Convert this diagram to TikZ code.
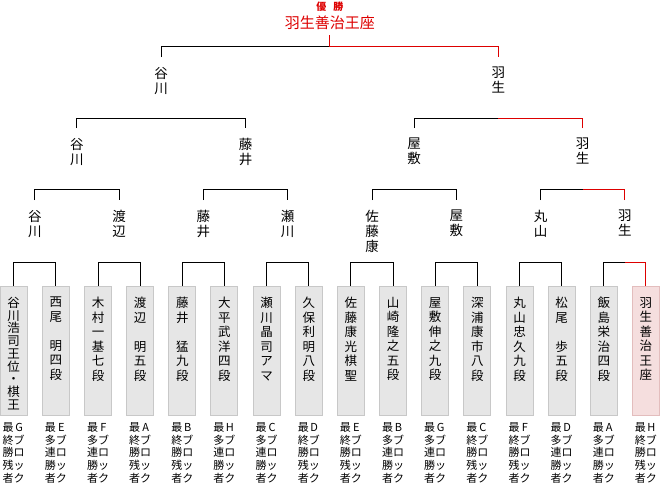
\documentclass[tikz,border=0pt]{standalone}
\usepackage{fontspec}
\setmainfont{Noto Sans CJK JP}
\usepackage{xcolor}
\definecolor{winred}{HTML}{DD0000}
\definecolor{boxfill}{HTML}{E6E6E6}
\definecolor{boxline}{HTML}{C8C8C8}
\definecolor{champfill}{HTML}{F5DEDE}
\definecolor{champline}{HTML}{E3BDBD}
\usepackage{tikz}
\usetikzlibrary{positioning, calc}

\newcommand{\zan}[1]{\begin{tabular}{@{}c@{}c@{}}最&#1\\終&ブ\\勝&ロ\\残&ッ\\者&ク\end{tabular}}
\newcommand{\ren}[1]{\begin{tabular}{@{}c@{}c@{}}最&#1\\多&ブ\\連&ロ\\勝&ッ\\者&ク\end{tabular}}

\tikzset{
  leaf/.style={draw=boxline, fill=boxfill, line width=1pt,
               minimum width=27pt, minimum height=129pt, inner sep=0pt},
  namelbl/.style={anchor=north, yshift=-9pt, align=center, inner sep=2pt,
                  font=\fontsize{12.5}{14.5}\selectfont},
  blocklbl/.style={anchor=north, yshift=-6pt, inner sep=0pt,
                   font=\fontsize{11}{11.6}\selectfont},
  wlbl/.style={anchor=north, align=center, inner xsep=0pt, inner ysep=10pt,
               font=\fontsize{13.5}{15}\selectfont},
  lose/.style={draw=black, line width=1pt},
  win/.style={draw=winred, line width=1pt}
}

\begin{document}
\begin{tikzpicture}[x=1pt, y=-1pt]
  \useasboundingbox (0,0) rectangle (660,483);

  \node[font=\bfseries\fontsize{10}{10}\selectfont, text=winred] (yusho)
        at (329.8,7) {優\hspace{0.7em}勝};
  \node[font=\fontsize{15}{15}\selectfont, text=winred, inner xsep=0pt,
        inner ysep=5pt] (champ) at (329.8,23) {羽生善治王座};
  \coordinate (top) at (329.8,46);

  \node[leaf, anchor=north,
        label={[namelbl, font=\fontsize{12.5}{12.75}\selectfont]north:{谷\\川\\浩\\司\\王\\位\\・\\棋\\王}},
        label={[blocklbl]south:\zan{G}}] (b1) at (13.7,286) {};
  \node[leaf, right=14.15pt of b1,
        label={[namelbl]north:{西\\尾\\\mbox{}\\明\\四\\段}},
        label={[blocklbl]south:\ren{E}}] (b2) {};
  \node[leaf, right=14.15pt of b2,
        label={[namelbl]north:{木\\村\\一\\基\\七\\段}},
        label={[blocklbl]south:\ren{F}}] (b3) {};
  \node[leaf, right=14.15pt of b3,
        label={[namelbl]north:{渡\\辺\\\mbox{}\\明\\五\\段}},
        label={[blocklbl]south:\zan{A}}] (b4) {};
  \node[leaf, right=14.15pt of b4,
        label={[namelbl]north:{藤\\井\\\mbox{}\\猛\\九\\段}},
        label={[blocklbl]south:\zan{B}}] (b5) {};
  \node[leaf, right=14.15pt of b5,
        label={[namelbl]north:{大\\平\\武\\洋\\四\\段}},
        label={[blocklbl]south:\ren{H}}] (b6) {};
  \node[leaf, right=14.15pt of b6,
        label={[namelbl]north:{瀬\\川\\晶\\司\\ア\\マ}},
        label={[blocklbl]south:\ren{C}}] (b7) {};
  \node[leaf, right=14.15pt of b7,
        label={[namelbl]north:{久\\保\\利\\明\\八\\段}},
        label={[blocklbl]south:\zan{D}}] (b8) {};
  \node[leaf, right=14.15pt of b8,
        label={[namelbl]north:{佐\\藤\\康\\光\\棋\\聖}},
        label={[blocklbl]south:\zan{E}}] (b9) {};
  \node[leaf, right=14.15pt of b9,
        label={[namelbl]north:{山\\崎\\隆\\之\\五\\段}},
        label={[blocklbl]south:\ren{B}}] (b10) {};
  \node[leaf, right=14.15pt of b10,
        label={[namelbl]north:{屋\\敷\\伸\\之\\九\\段}},
        label={[blocklbl]south:\ren{G}}] (b11) {};
  \node[leaf, right=14.15pt of b11,
        label={[namelbl]north:{深\\浦\\康\\市\\八\\段}},
        label={[blocklbl]south:\zan{C}}] (b12) {};
  \node[leaf, right=14.15pt of b12,
        label={[namelbl]north:{丸\\山\\忠\\久\\九\\段}},
        label={[blocklbl]south:\zan{F}}] (b13) {};
  \node[leaf, right=14.15pt of b13,
        label={[namelbl]north:{松\\尾\\\mbox{}\\歩\\五\\段}},
        label={[blocklbl]south:\ren{D}}] (b14) {};
  \node[leaf, right=14.15pt of b14,
        label={[namelbl]north:{飯\\島\\栄\\治\\四\\段}},
        label={[blocklbl]south:\ren{A}}] (b15) {};
  \node[leaf, right=14.15pt of b15, draw=champline, fill=champfill,
        label={[namelbl]north:{羽\\生\\善\\治\\王\\座}},
        label={[blocklbl]south:\zan{H}}] (b16) {};

  \node[wlbl] (r1) at (34.8,200) {谷\\川};
  \node[wlbl] (r2) at (119.1,200) {渡\\辺};
  \node[wlbl] (r3) at (203.4,200) {藤\\井};
  \node[wlbl] (r4) at (287.7,200) {瀬\\川};
  \node[wlbl] (r5) at (372.0,200) {佐\\藤\\康};
  \node[wlbl] (r6) at (456.3,200) {屋\\敷};
  \node[wlbl] (r7) at (540.6,200) {丸\\山};
  \node[wlbl] (r8) at (624.9,200) {羽\\生};

  \node[wlbl] (q1) at (76.9,128) {谷\\川};
  \node[wlbl] (q2) at (245.5,128) {藤\\井};
  \node[wlbl] (q3) at (414.1,128) {屋\\敷};
  \node[wlbl] (q4) at (582.7,128) {羽\\生};

  \node[wlbl] (p1) at (161.2,57) {谷\\川};
  \node[wlbl] (p2) at (498.4,57) {羽\\生};

  \draw[lose] (b1.north) -- ++(0,-24) -| (b2.north);
  \draw[lose] (b3.north) -- ++(0,-24) -| (b4.north);
  \draw[lose] (b5.north) -- ++(0,-24) -| (b6.north);
  \draw[lose] (b7.north) -- ++(0,-24) -| (b8.north);
  \draw[lose] (b9.north) -- ++(0,-24) -| (b10.north);
  \draw[lose] (b11.north) -- ++(0,-24) -| (b12.north);
  \draw[lose] (b13.north) -- ++(0,-24) -| (b14.north);
  \draw[lose] (b15.north) |- ($(b15.north)!.5!(b16.north)+(0,-24)$);
  \draw[win] (b16.north) |- ($(b15.north)!.5!(b16.north)+(0,-24)$);

  \draw[lose] (r1.north) -- ++(0,-11) -| (r2.north);
  \draw[lose] (r3.north) -- ++(0,-11) -| (r4.north);
  \draw[lose] (r5.north) -- ++(0,-11) -| (r6.north);
  \draw[lose] (r7.north) |- ($(r7.north)!.5!(r8.north)+(0,-11)$);
  \draw[win] (r8.north) |- ($(r7.north)!.5!(r8.north)+(0,-11)$);

  \draw[lose] (q1.north) -- ++(0,-10) -| (q2.north);
  \draw[lose] (q3.north) |- ($(q3.north)!.5!(q4.north)+(0,-10)$);
  \draw[win] (q4.north) |- ($(q3.north)!.5!(q4.north)+(0,-10)$);

  \draw[lose] (p1.north) |- (top);
  \draw[win] (champ.south) -- (top) -| (p2.north);
\end{tikzpicture}
\end{document}
